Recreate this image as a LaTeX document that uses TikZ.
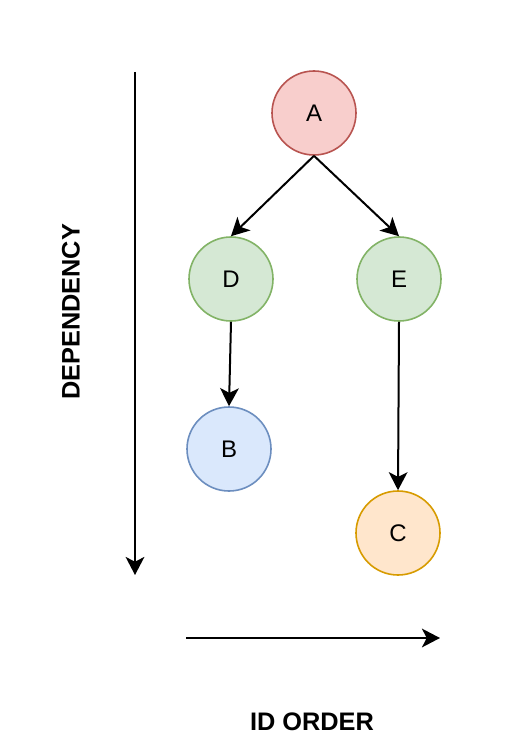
\documentclass[tikz,border=0pt]{standalone}
\usepackage{fontspec}
\setmainfont{Liberation Sans}
\usetikzlibrary{arrows.meta,positioning}

\definecolor{redfill}{HTML}{F8CECC}
\definecolor{redline}{HTML}{B85450}
\definecolor{greenfill}{HTML}{D5E8D4}
\definecolor{greenline}{HTML}{82B366}
\definecolor{bluefill}{HTML}{DAE8FC}
\definecolor{blueline}{HTML}{6C8EBF}
\definecolor{orangefill}{HTML}{FFE6CC}
\definecolor{orangeline}{HTML}{D79B00}

\tikzset{
    vertex/.style={circle, draw, line width=1.2pt, minimum size=63pt, inner sep=0pt, font=\fontsize{18}{20}\selectfont},
    link/.style={-{Stealth[length=13.5pt,width=14pt,inset=3.5pt]}, line width=1.5pt},
    axislabel/.style={font=\fontsize{19}{21}\selectfont\bfseries}
}

\begin{document}
\begin{tikzpicture}[x=0.75pt, y=-0.75pt]
    \useasboundingbox (0,0) rectangle (526,755);

    % Draw the circles
    \node[vertex, draw=redline, fill=redfill] (A) at (314,113) {A};
    \node[vertex, draw=greenline, fill=greenfill] (D) at (231,279) {D};
    \node[vertex, draw=greenline, fill=greenfill] (E) at (399,279) {E};
    \node[vertex, draw=blueline, fill=bluefill] (B) at (229,449) {B};
    \node[vertex, draw=orangeline, fill=orangefill] (C) at (398,533) {C};

    % Draw the arrows
    \draw[link] (A.south) -- (D.north);
    \draw[link] (A.south) -- (E.north);
    \draw[link] (D.south) -- (B.north);
    \draw[link] (E.south) -- (C.north);

    % Draw the axes
    \coordinate (deptop) at (135,72);
    \coordinate (depbot) at (135,575);
    \coordinate (idleft) at (186,638);
    \coordinate (idright) at (440,638);
    \draw[link] (deptop) -- (depbot);
    \draw[link] (idleft) -- (idright);

    % Draw the labels
    \node[axislabel, rotate=90] (dep) at (71,312) {DEPENDENCY};
    \node[axislabel] (id) at (312,722) {ID ORDER};
\end{tikzpicture}
\end{document}
